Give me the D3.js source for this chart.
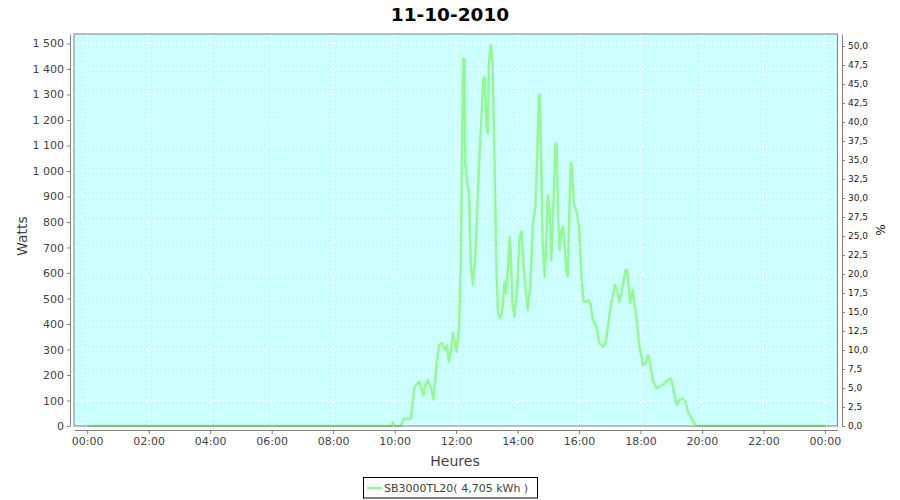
<!DOCTYPE html>
<html><head><meta charset="utf-8">
<script src="https://cdn.jsdelivr.net/npm/d3@7/dist/d3.min.js"></script>
<style>
html,body{margin:0;padding:0;background:#fff;}
svg{display:block;font-family:"DejaVu Sans",sans-serif;}
</style></head>
<body>
<svg id="c" width="900" height="500"></svg>
<script>
const title = "11-10-2010";
const seriesName = "SB3000TL20( 4,705 kWh )";
const times = ["00:00","09:45","09:53","09:57","10:02","10:12","10:18","10:26","10:32","10:36","10:39","10:48","10:56","11:00","11:05","11:11","11:16","11:23","11:27","11:33","11:38","11:42","11:46","11:50","11:54","12:01","12:06","12:09","12:14","12:17","12:18","12:22","12:25","12:29","12:33","12:38","12:45","12:50","12:53","12:56","12:59","13:02","13:04","13:08","13:11","13:14","13:19","13:22","13:27","13:31","13:35","13:38","13:41","13:45","13:47","13:50","13:54","13:59","14:04","14:08","14:11","14:16","14:20","14:25","14:30","14:35","14:39","14:42","14:44","14:45","14:49","14:53","14:56","14:59","15:03","15:06","15:09","15:14","15:16","15:19","15:22","15:26","15:29","15:32","15:35","15:38","15:42","15:44","15:46","15:50","15:56","16:00","16:05","16:09","16:14","16:18","16:22","16:27","16:34","16:40","16:47","16:52","16:57","17:03","17:10","17:14","17:19","17:25","17:31","17:34","17:40","17:45","17:52","17:58","18:05","18:10","18:15","18:19","18:24","18:31","18:37","18:44","18:49","18:54","18:59","19:02","19:07","19:11","19:16","19:22","19:28","19:33","19:39","19:44","19:48","19:52","24:00"];
const watts = [0,0,0,14,0,0,28,27,30,102,154,174,121,160,180,149,105,258,318,324,298,318,252,300,366,291,383,612,1442,1435,1031,945,925,625,553,678,1031,1226,1357,1370,1174,1148,1422,1494,1424,1161,599,442,422,468,566,520,612,742,664,481,429,533,742,762,651,533,455,546,795,860,1095,1298,1300,1174,716,585,703,906,834,651,808,1102,1108,835,690,769,782,703,612,585,899,1030,1024,873,834,782,585,487,487,494,484,416,390,324,311,324,400,481,553,533,487,546,612,612,481,533,429,311,239,246,278,246,180,148,154,161,174,180,187,167,115,82,102,108,95,50,34,13,4,0,0];
const xTicks = [0,2,4,6,8,10,12,14,16,18,20,22,24];
const yTicks = [0,100,200,300,400,500,600,700,800,900,1000,1100,1200,1300,1400,1500];
const y2Ticks = [0,2.5,5,7.5,10,12.5,15,17.5,20,22.5,25,27.5,30,32.5,35,37.5,40,42.5,45,47.5,50];

const svg = d3.select("#c");
const P = {l:74, r:837.5, t:34, b:426};
const toH = s => { const [h,m] = s.split(":").map(Number); return h + m/60; };
const data = times.map((t,i)=>({h:toH(t), w:watts[i]}));

const x = d3.scaleLinear().domain([-0.43, 24.41]).range([P.l, P.r]);
const y = d3.scaleLinear().domain([0, 1537]).range([P.b, P.t]);
const y2 = d3.scaleLinear().domain([0, 51.58]).range([P.b, P.t]);

// plot background
svg.append("rect").attr("x",P.l).attr("y",P.t).attr("width",P.r-P.l).attr("height",P.b-P.t)
  .attr("fill","#CCFFFF");
// grid
const g = svg.append("g");
xTicks.forEach(v=>g.append("line").attr("x1",x(v)).attr("x2",x(v)).attr("y1",P.t).attr("y2",P.b)
  .attr("stroke","#fff").attr("stroke-width",1).attr("stroke-dasharray","2,2"));
yTicks.forEach(v=>g.append("line").attr("x1",P.l).attr("x2",P.r).attr("y1",y(v)).attr("y2",y(v))
  .attr("stroke","#fff").attr("stroke-width",1).attr("stroke-dasharray","2,2"));

// line
const line = d3.line().x(d=>x(d.h)).y(d=>y(d.w));
svg.append("path").datum(data).attr("d",line).attr("fill","none")
  .attr("stroke","#94F894").attr("stroke-width",2.5).attr("stroke-linejoin","round");

// plot outline
svg.append("rect").attr("x",P.l).attr("y",P.t).attr("width",P.r-P.l).attr("height",P.b-P.t)
  .attr("fill","none").attr("stroke","#808080").attr("stroke-width",1);

function styleAxis(sel, col, fs){
  sel.selectAll(".domain").attr("stroke","#808080");
  sel.selectAll(".tick line").attr("stroke","#808080");
  sel.selectAll(".tick text").attr("fill",col).style("font-family","'DejaVu Sans',sans-serif").style("font-size",fs);
}
const fmtW = v => v>=1000 ? Math.floor(v/1000)+"\u00a0"+String(v%1000).padStart(3,"0") : String(v);
const ax = svg.append("g").attr("transform",`translate(0,${P.b+4})`)
  .call(d3.axisBottom(x).tickValues(xTicks).tickSize(4).tickSizeOuter(0).tickPadding(3)
    .tickFormat(v=>String(v%24).padStart(2,"0")+":00"));
styleAxis(ax,"#444","11px");
const ay = svg.append("g").attr("transform",`translate(${P.l-4},0)`)
  .call(d3.axisLeft(y).tickValues(yTicks).tickSize(3).tickSizeOuter(0).tickPadding(3).tickFormat(fmtW));
styleAxis(ay,"#444","11px");
const ay2 = svg.append("g").attr("transform",`translate(${P.r+4.5},0)`)
  .call(d3.axisRight(y2).tickValues(y2Ticks).tickSize(3).tickSizeOuter(0).tickPadding(3)
    .tickFormat(v=>v.toFixed(1).replace(".",",")));
styleAxis(ay2,"#222","9px");

// titles
svg.append("text").attr("x",450).attr("y",21).attr("text-anchor","middle")
  .style("font-size","18.5px").style("font-weight","bold").attr("fill","#000").text(title);
svg.append("text").attr("x",455).attr("y",466).attr("text-anchor","middle")
  .style("font-size","14px").attr("fill","#444").text("Heures");
svg.append("text").attr("transform","translate(27,236) rotate(-90)").attr("text-anchor","middle")
  .style("font-size","14px").attr("fill","#444").text("Watts");
svg.append("text").attr("transform","translate(885,230) rotate(-90)").attr("text-anchor","middle")
  .style("font-size","12px").attr("fill","#222").text("%");

// legend
const lg = svg.append("g");
lg.append("rect").attr("x",363.5).attr("y",477.5).attr("width",174).attr("height",20.5)
  .attr("fill","#fff").attr("stroke","#000").attr("stroke-width",1);
lg.append("line").attr("x1",367).attr("x2",382).attr("y1",488).attr("y2",488)
  .attr("stroke","#94F894").attr("stroke-width",2.5);
lg.append("text").attr("x",384).attr("y",492).style("font-size","11px").attr("fill","#444").text(seriesName);
</script>
</body></html>
